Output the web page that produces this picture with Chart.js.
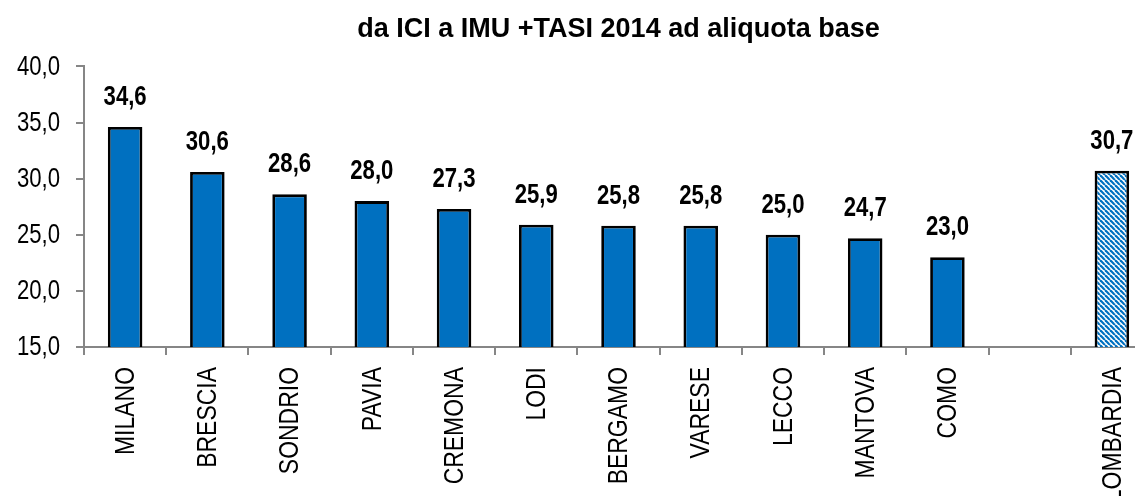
<!DOCTYPE html>
<html>
<head>
<meta charset="utf-8">
<script src="https://cdn.jsdelivr.net/npm/chart.js@4"></script>
<style>
    html, body { margin: 0; padding: 0; background: #fff; }
    #wrap { width: 1135px; height: 496px; overflow: hidden; position: relative; }
    #chart { position: absolute; left: 0; top: 0; }
</style>
</head>
<body>
<div id="wrap"><canvas id="chart" width="1160" height="496"></canvas></div>
<script>
// === DATA ===
const CATEGORIES = ["MILANO", "BRESCIA", "SONDRIO", "PAVIA", "CREMONA", "LODI", "BERGAMO", "VARESE", "LECCO", "MANTOVA", "COMO", "", "LOMBARDIA"];
const VALUES = [34.6, 30.6, 28.6, 28.0, 27.3, 25.9, 25.8, 25.8, 25.0, 24.7, 23.0, null, 30.7];
const Y_TICKS = [15, 20, 25, 30, 35, 40];
const TITLE = "da ICI a IMU +TASI 2014 ad aliquota base";

// === STYLE ===
const BLUE = "#0070C0";
const AXIS = "#868686";
const SANS = "'Liberation Sans', Arial, sans-serif";
const SQUEEZE = 0.82; // no narrow font installed, so squeeze the regular one
const fmt = (v) => v.toFixed(1).replace(".", ",");

// striped fill for the regional total
function makeHatch() {
    const s = 5;
    const c = document.createElement("canvas");
    c.width = s;
    c.height = s;
    const g = c.getContext("2d");
    g.fillStyle = "#fff";
    g.fillRect(0, 0, s, s);
    g.strokeStyle = BLUE;
    g.lineWidth = 2.2;
    for (let k = -1; k <= 1; k++) {
        g.beginPath();
        g.moveTo(k * s, 0);
        g.lineTo(k * s + s, s);
        g.stroke();
    }
    return g.createPattern(c, "repeat");
}
const hatch = makeHatch();
const fills = CATEGORIES.map((c) => (c === "LOMBARDIA" ? hatch : BLUE));

// draw text squeezed horizontally (in its own direction)
function narrowText(ctx, text, x, y, rot) {
    ctx.save();
    ctx.translate(x, y);
    if (rot) ctx.rotate(rot);
    ctx.scale(SQUEEZE, 1);
    ctx.fillText(text, 0, 0);
    ctx.restore();
}

// tick labels + value labels, all in narrow style
const narrowLabels = {
    id: "narrowLabels",
    afterDraw(chart) {
        const ctx = chart.ctx;
        const xs = chart.scales.x;
        const ys = chart.scales.y;
        ctx.save();
        ctx.fillStyle = "#000";

        // y ticks
        ctx.font = "27px " + SANS;
        ctx.textAlign = "right";
        ctx.textBaseline = "middle";
        Y_TICKS.forEach((v) => {
            narrowText(ctx, fmt(v), 60, ys.getPixelForValue(v) + 1);
        });

        // category labels, rotated
        ctx.font = "28px " + SANS;
        ctx.textAlign = "right";
        ctx.textBaseline = "middle";
        CATEGORIES.forEach((c, i) => {
            if (!c) return;
            narrowText(ctx, c, xs.getPixelForValue(i) + 1, xs.top + 20, -Math.PI / 2);
        });

        // values above bars
        const meta = chart.getDatasetMeta(0);
        ctx.font = "bold 27px " + SANS;
        ctx.textAlign = "center";
        ctx.textBaseline = "alphabetic";
        meta.data.forEach((bar, i) => {
            const v = VALUES[i];
            if (v == null) return;
            narrowText(ctx, fmt(v), bar.x, bar.y - 22);
        });
        ctx.restore();
    },
};

new Chart(document.getElementById("chart"), {
    type: "bar",
    data: {
        labels: CATEGORIES,
        datasets: [
            {
                data: VALUES,
                backgroundColor: fills,
                borderColor: "#000",
                borderWidth: 2.8,
                borderSkipped: false,
                barPercentage: 0.42,
                categoryPercentage: 1,
            },
        ],
    },
    options: {
        responsive: false,
        animation: false,
        devicePixelRatio: 1,
        layout: { padding: { left: 0, right: 7, top: 0, bottom: 0 } },
        plugins: {
            legend: { display: false },
            tooltip: { enabled: false },
            title: {
                display: true,
                text: TITLE,
                fullSize: false,
                color: "#000",
                font: { family: SANS, size: 27, weight: "bold", lineHeight: 1.2 },
                padding: { top: 13, bottom: 21 },
            },
        },
        scales: {
            x: {
                offset: true,
                border: { display: true, color: AXIS, width: 2 },
                grid: { display: true, offset: true, drawOnChartArea: false, drawTicks: true, tickLength: 8, color: AXIS, lineWidth: 2 },
                ticks: { display: false, autoSkip: false },
                afterFit: (scale) => { scale.height = 149; },
            },
            y: {
                min: 15,
                max: 40,
                afterBuildTicks: (scale) => { scale.ticks = Y_TICKS.map((v) => ({ value: v })); },
                border: { display: true, color: AXIS, width: 2 },
                grid: { display: true, drawOnChartArea: false, drawTicks: true, tickLength: 8, color: AXIS, lineWidth: 2 },
                ticks: { display: false },
                afterFit: (scale) => { scale.width = 84; },
            },
        },
    },
    plugins: [narrowLabels],
});
</script>
</body>
</html>
